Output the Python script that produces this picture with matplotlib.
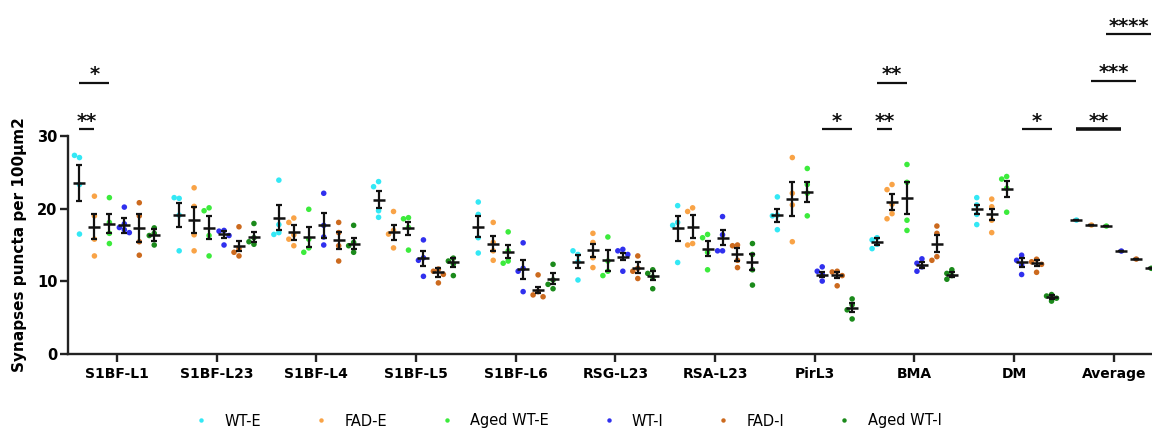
import numpy as np
import matplotlib
matplotlib.use("Agg")
import matplotlib.pyplot as plt
from matplotlib.lines import Line2D

categories = ["S1BF-L1", "S1BF-L23", "S1BF-L4", "S1BF-L5", "S1BF-L6",
              "RSG-L23", "RSA-L23", "PirL3", "BMA", "DM", "Average"]
series_names = ["WT-E", "FAD-E", "Aged WT-E", "WT-I", "FAD-I", "Aged WT-I"]
colors = ["#33E8F5", "#F9A346", "#3CEB3C", "#3030EE", "#CC6A1E", "#1B8A1B"]

wt_e_points = [[27.0, 27.3, 23.3, 16.5], [21.4, 21.5, 19.1, 14.2], [23.9, 17.8, 16.7, 16.45],
               [23.7, 23.0, 19.7, 18.8], [20.9, 19.2, 16.0, 13.9], [13.7, 14.2, 12.7, 10.2],
               [20.4, 18.1, 17.7, 12.6], [21.6, 19.1, 19.0, 17.1], [16.0, 15.7, 15.1, 14.5],
               [21.5, 20.5, 19.2, 17.8], [18.42]]
wt_e_mean = [23.5, 19.1, 18.75, 21.2, 17.5, 12.7, 17.3, 19.1, 15.45, 19.9, 18.42]
wt_e_sem = [2.5, 1.65, 1.7, 1.15, 1.45, 0.9, 1.7, 0.9, 0.5, 0.6, 0.0]

fad_e_points = [[21.7, 19.0, 15.8, 13.5], [22.85, 20.3, 16.4, 14.2], [18.7, 18.1, 16.4, 15.8, 14.9],
                [19.6, 17.0, 16.5, 14.6], [18.1, 15.35, 14.2, 12.9], [16.6, 15.35, 13.25, 11.9],
                [20.1, 19.6, 15.2, 15.0], [27.0, 22.1, 20.5, 15.45], [23.3, 22.6, 20.6, 19.3, 18.6],
                [21.3, 20.25, 18.4, 16.7], [17.74]]
fad_e_mean = [17.5, 18.4, 16.75, 16.75, 15.2, 14.3, 17.5, 21.3, 20.9, 19.2, 17.74]
fad_e_sem = [1.7, 1.8, 1.0, 1.05, 1.05, 0.9, 1.55, 2.3, 1.15, 0.8, 0.0]

aged_e_points = [[21.5, 18.1, 16.6, 15.2], [20.1, 19.7, 16.3, 13.5], [19.9, 15.8, 14.6, 14.0],
                 [18.75, 18.6, 17.4, 14.3], [16.8, 14.2, 12.8, 12.5], [16.1, 12.8, 11.4, 10.8],
                 [16.45, 16.0, 14.0, 11.6], [25.5, 23.3, 22.1, 19.0], [26.05, 23.6, 18.4, 17.0],
                 [24.4, 24.05, 22.8, 19.5], [17.6]]
aged_e_mean = [17.95, 17.4, 16.1, 17.3, 14.1, 12.9, 14.5, 22.3, 21.4, 22.7, 17.6]
aged_e_sem = [1.3, 1.6, 1.4, 0.9, 0.95, 1.4, 1.0, 1.4, 2.2, 1.1, 0.0]

wt_i_points = [[20.2, 17.9, 17.4, 17.1, 16.7], [17.0, 16.9, 16.3, 15.0], [22.1, 17.7, 16.1, 15.0],
               [15.7, 13.25, 12.9, 10.7], [15.3, 11.8, 11.4, 8.6], [14.4, 14.2, 13.7, 11.4],
               [18.9, 16.4, 14.2, 14.2], [12.0, 11.4, 11.0, 10.05], [13.1, 12.5, 12.0, 11.4],
               [13.6, 12.9, 12.25, 10.95], [14.17]]
wt_i_mean = [17.7, 16.45, 17.7, 13.15, 11.65, 13.4, 16.0, 10.95, 12.25, 12.6, 14.17]
wt_i_sem = [1.0, 0.45, 1.75, 1.0, 1.3, 0.45, 1.05, 0.35, 0.45, 0.6, 0.0]

fad_i_points = [[20.8, 19.0, 15.45, 13.6], [17.5, 14.5, 14.0, 13.5], [18.1, 16.7, 14.9, 12.8],
                [11.7, 11.4, 10.97, 9.8], [10.9, 8.6, 8.15, 7.9], [13.5, 11.8, 11.4, 10.4],
                [15.0, 14.9, 12.9, 11.9], [11.4, 11.3, 10.8, 9.4], [17.6, 16.6, 13.4, 12.9],
                [13.05, 12.7, 12.35, 11.25], [13.07]]
fad_i_mean = [17.3, 14.9, 15.65, 11.25, 8.8, 11.9, 13.7, 10.9, 15.2, 12.5, 13.07]
fad_i_sem = [1.9, 0.7, 1.2, 0.6, 0.45, 0.8, 0.85, 0.4, 1.2, 0.45, 0.0]

aged_i_points = [[17.35, 16.6, 16.3, 15.0], [17.95, 16.0, 15.45, 15.1], [17.7, 15.35, 14.9, 14.0],
                 [13.2, 12.8, 12.4, 10.8], [12.35, 10.2, 9.6, 9.0], [11.6, 11.1, 10.6, 9.0],
                 [15.2, 13.7, 11.6, 9.5], [7.6, 6.8, 6.1, 4.85], [11.6, 11.1, 10.8, 10.3],
                 [8.2, 8.0, 7.7, 7.3], [11.8]]
aged_i_mean = [16.35, 16.1, 15.2, 12.6, 10.35, 10.8, 12.7, 6.4, 10.9, 7.9, 11.8]
aged_i_sem = [0.8, 0.65, 0.8, 0.6, 0.75, 0.65, 1.1, 0.65, 0.35, 0.3, 0.0]

all_points = [wt_e_points, fad_e_points, aged_e_points, wt_i_points, fad_i_points, aged_i_points]
all_means = [wt_e_mean, fad_e_mean, aged_e_mean, wt_i_mean, fad_i_mean, aged_i_mean]
all_sems = [wt_e_sem, fad_e_sem, aged_e_sem, wt_i_sem, fad_i_sem, aged_i_sem]

# significance: (category, series a, series b, bar level, label)
sig_cats = [0, 0, 7, 8, 8, 9, 10, 10, 10]
sig_a = [0, 0, 3, 0, 0, 3, 0, 1, 2]
sig_b = [1, 2, 5, 1, 2, 5, 3, 4, 5]
sig_level = [30.86, 37.26, 30.86, 30.86, 37.26, 30.86, 30.86, 37.5, 43.9]
sig_labels = ["**", "*", "*", "**", "**", "*", "**", "***", "****"]

yticks = [0, 10, 20, 30]

# ---------------------------------------------------------------
W, H = 1152, 432
fig = plt.figure(figsize=(W / 100, H / 100), dpi=100)
fig.patch.set_facecolor("white")

px_per_unit_x = 99.7
x_left, x_right = -0.49, 10.5
ax = fig.add_axes([68 / W, 1 - 354.3 / H,
                   (x_right - x_left) * px_per_unit_x / W, (354.3 - 135.7) / H])

offsets = (np.arange(6) - 2.5) * 0.15
step_x = 0.05
thr_y = 0.75


def swarm(vals):
    placed, offs = [], []
    for v in vals:
        chosen = 0.0
        for c in (0.0, -step_x, step_x, -2 * step_x, 2 * step_x):
            if all(abs(v - pv) >= thr_y or abs(c - pc) >= step_x * 0.99 for pv, pc in placed):
                chosen = c
                break
        placed.append((v, chosen))
        offs.append(chosen)
    return offs


xc = np.arange(len(categories))
for s in range(6):
    for ci in range(len(categories)):
        vals = all_points[s][ci]
        offs = swarm(vals)
        xs = [ci + offsets[s] + o for o in offs]
        ax.scatter(xs, vals, s=16, color=colors[s], edgecolors="none", zorder=2)
    xm = xc + offsets[s]
    ax.errorbar(xm, all_means[s], yerr=all_sems[s], fmt="none", ecolor="#111111",
                elinewidth=1.6, capsize=2.1, capthick=1.6, zorder=3)
    ax.plot(xm, all_means[s], ls="none", marker="_", ms=8.5, mew=1.8, color="#111111", zorder=4)

# significance bars
for ci, a, b, lvl, lab in zip(sig_cats, sig_a, sig_b, sig_level, sig_labels):
    x1, x2 = ci + offsets[a], ci + offsets[b]
    lw = 2.6 if (ci == 10 and lab == "**") else 1.6
    ax.plot([x1, x2], [lvl, lvl], color="#111111", lw=lw, clip_on=False,
            solid_capstyle="butt", zorder=5)
    ax.text((x1 + x2) / 2, lvl + 0.35, lab, ha="center", va="baseline", fontsize=14,
            fontweight="bold", color="#111111", clip_on=False, family="DejaVu Sans")

ax.set_xlim(x_left, x_right)
ax.set_ylim(0, 30)
ax.set_xticks(xc)
ax.set_xticklabels(categories)
ax.set_yticks(yticks)
for side in ("top", "right"):
    ax.spines[side].set_visible(False)
for side in ("left", "bottom"):
    ax.spines[side].set_linewidth(1.7)
    ax.spines[side].set_color("#222222")
ax.tick_params(axis="both", direction="out", length=5.5, width=1.7, color="#222222")
ax.tick_params(axis="x", pad=4, labelsize=10)
ax.tick_params(axis="y", pad=2, labelsize=10.5)
for lab in ax.get_xticklabels() + ax.get_yticklabels():
    lab.set_fontweight("bold")
    lab.set_family("DejaVu Sans")

ax.set_ylabel("Synapses puncta per 100µm2", fontsize=11, fontweight="bold", family="DejaVu Sans")
ax.yaxis.set_label_coords((27 - 68) / ((x_right - x_left) * px_per_unit_x), 0.5)

handles = [Line2D([], [], ls="none", marker="o", ms=3.2, color=c, mec="none") for c in colors]
fig.legend(handles, series_names, loc="center", bbox_to_anchor=(567 / W, 1 - 421 / H), ncol=6,
           frameon=False, handlelength=1.2, handletextpad=1.0, columnspacing=3.5,
           prop={"family": "DejaVu Sans", "size": 10.5})

fig.savefig("out.png", dpi=100)
